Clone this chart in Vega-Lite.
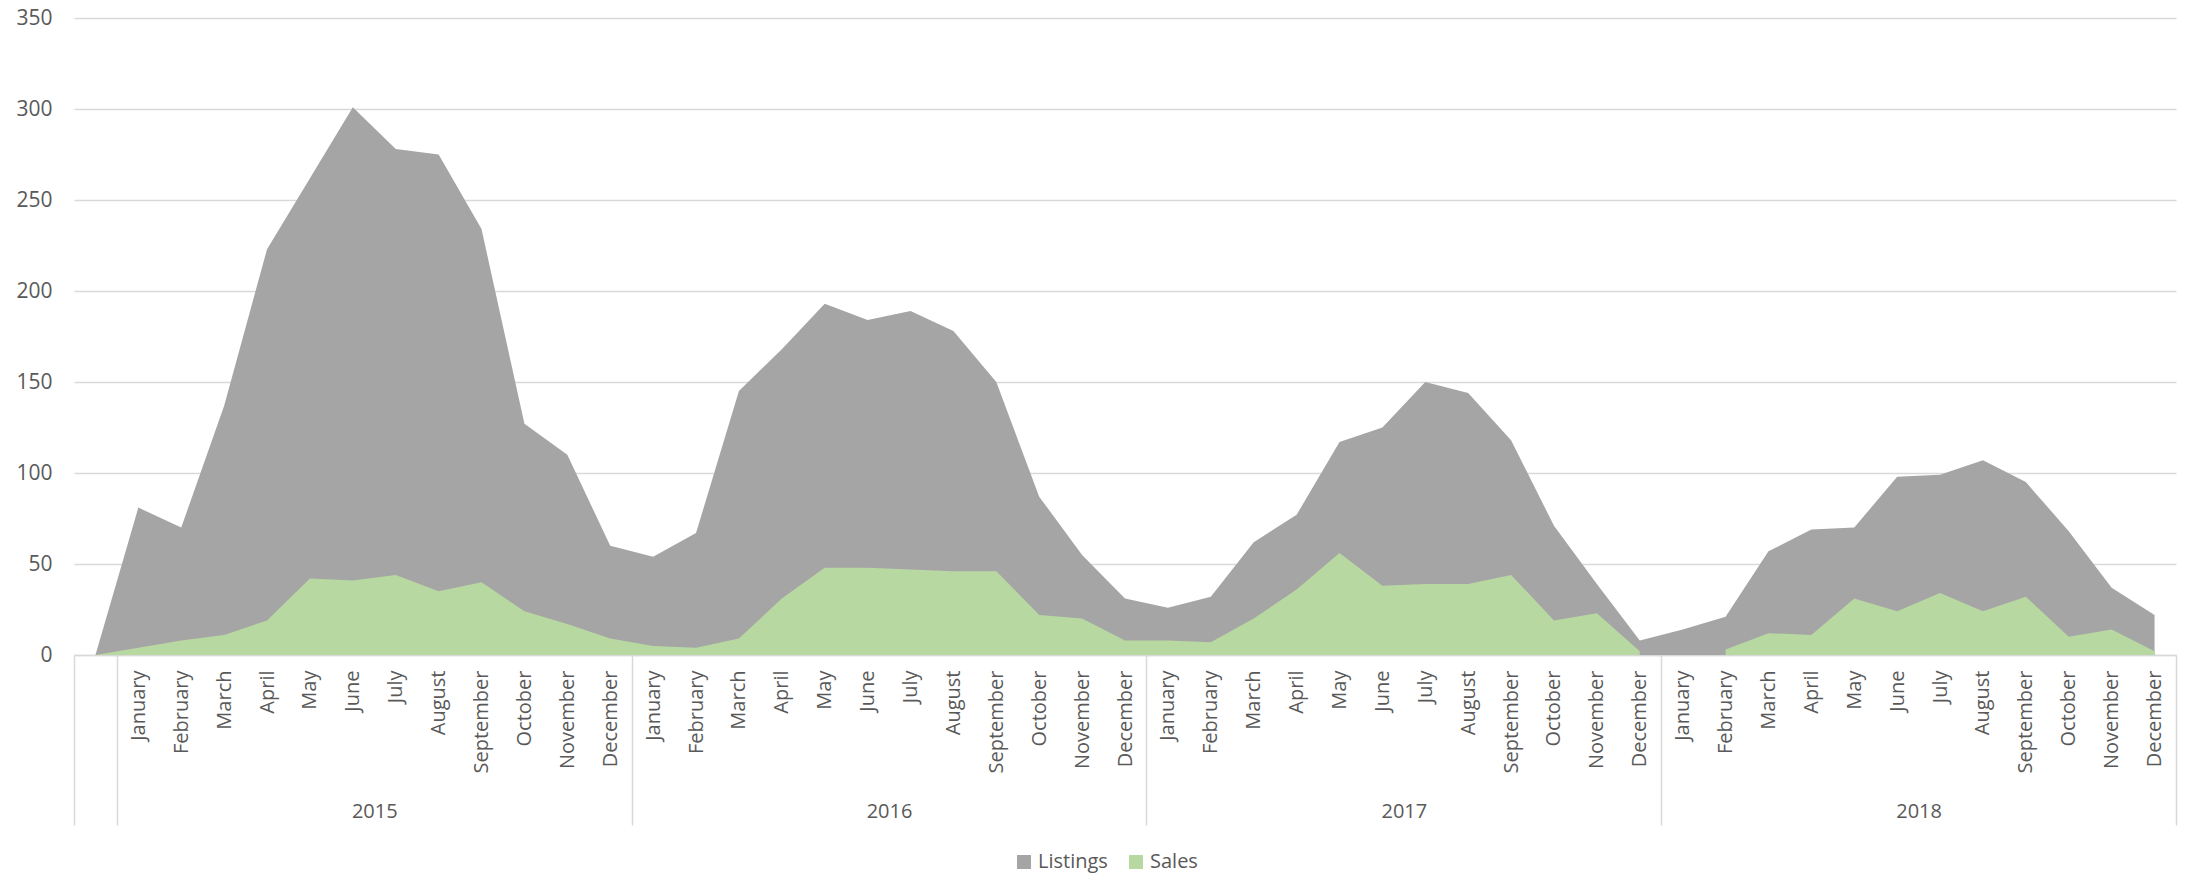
{
  "$schema": "https://vega.github.io/schema/vega-lite/v6.json",
  "width": 2102,
  "height": 637,
  "autosize": {"type": "none"},
  "padding": {"left": 74, "top": 18, "right": 14, "bottom": 220},
  "background": "white",
  "config": {"view": {"stroke": null}, "font": "Open Sans"},
  "layer": [
    {
      "data": {
        "values": [
          {"k": "start", "Listings": 0, "Sales": 0},
          {"k": "2015 January", "Listings": 81, "Sales": 4},
          {"k": "2015 February", "Listings": 70, "Sales": 8},
          {"k": "2015 March", "Listings": 137, "Sales": 11},
          {"k": "2015 April", "Listings": 223, "Sales": 19},
          {"k": "2015 May", "Listings": 262, "Sales": 42},
          {"k": "2015 June", "Listings": 301, "Sales": 41},
          {"k": "2015 July", "Listings": 278, "Sales": 44},
          {"k": "2015 August", "Listings": 275, "Sales": 35},
          {"k": "2015 September", "Listings": 234, "Sales": 40},
          {"k": "2015 October", "Listings": 127, "Sales": 24},
          {"k": "2015 November", "Listings": 110, "Sales": 17},
          {"k": "2015 December", "Listings": 60, "Sales": 9},
          {"k": "2016 January", "Listings": 54, "Sales": 5},
          {"k": "2016 February", "Listings": 67, "Sales": 4},
          {"k": "2016 March", "Listings": 145, "Sales": 9},
          {"k": "2016 April", "Listings": 168, "Sales": 31},
          {"k": "2016 May", "Listings": 193, "Sales": 48},
          {"k": "2016 June", "Listings": 184, "Sales": 48},
          {"k": "2016 July", "Listings": 189, "Sales": 47},
          {"k": "2016 August", "Listings": 178, "Sales": 46},
          {"k": "2016 September", "Listings": 150, "Sales": 46},
          {"k": "2016 October", "Listings": 87, "Sales": 22},
          {"k": "2016 November", "Listings": 55, "Sales": 20},
          {"k": "2016 December", "Listings": 31, "Sales": 8},
          {"k": "2017 January", "Listings": 26, "Sales": 8},
          {"k": "2017 February", "Listings": 32, "Sales": 7},
          {"k": "2017 March", "Listings": 62, "Sales": 20},
          {"k": "2017 April", "Listings": 77, "Sales": 36},
          {"k": "2017 May", "Listings": 117, "Sales": 56},
          {"k": "2017 June", "Listings": 125, "Sales": 38},
          {"k": "2017 July", "Listings": 150, "Sales": 39},
          {"k": "2017 August", "Listings": 144, "Sales": 39},
          {"k": "2017 September", "Listings": 118, "Sales": 44},
          {"k": "2017 October", "Listings": 71, "Sales": 19},
          {"k": "2017 November", "Listings": 39, "Sales": 23},
          {"k": "2017 December", "Listings": 8, "Sales": 2},
          {"k": "2018 January", "Listings": 14, "Sales": null},
          {"k": "2018 February", "Listings": 21, "Sales": 3},
          {"k": "2018 March", "Listings": 57, "Sales": 12},
          {"k": "2018 April", "Listings": 69, "Sales": 11},
          {"k": "2018 May", "Listings": 70, "Sales": 31},
          {"k": "2018 June", "Listings": 98, "Sales": 24},
          {"k": "2018 July", "Listings": 99, "Sales": 34},
          {"k": "2018 August", "Listings": 107, "Sales": 24},
          {"k": "2018 September", "Listings": 95, "Sales": 32},
          {"k": "2018 October", "Listings": 68, "Sales": 10},
          {"k": "2018 November", "Listings": 37, "Sales": 14},
          {"k": "2018 December", "Listings": 22, "Sales": 2}
        ]
      },
      "transform": [{"fold": ["Listings", "Sales"], "as": ["series", "value"]}],
      "mark": {"type": "area", "interpolate": "linear", "opacity": 1, "invalid": "break-paths-show-domains"},
      "encoding": {
        "x": {
          "field": "k",
          "type": "ordinal",
          "sort": null,
          "scale": {"type": "point", "padding": 0.5},
          "axis": {
            "title": null,
            "orient": "bottom",
            "labelAngle": 270,
            "labelFontSize": 20,
            "labelFont": "Open Sans",
            "labelColor": "#595959",
            "labelPadding": 15,
            "labelOverlap": false,
            "labelLimit": 0,
            "ticks": false,
            "grid": false,
            "domain": true,
            "domainColor": "#D9D9D9",
            "domainWidth": 1.5,
            "labelExpr": "datum.value == 'start' ? '' : slice(datum.value, 5)"
          }
        },
        "y": {
          "field": "value",
          "type": "quantitative",
          "stack": null,
          "scale": {"domain": [0, 350], "nice": false},
          "axis": {
            "title": null,
            "values": [0, 50, 100, 150, 200, 250, 300, 350],
            "domain": false,
            "ticks": false,
            "grid": true,
            "gridColor": "#D9D9D9",
            "gridWidth": 1.5,
            "labelFontSize": 21,
            "labelFont": "Open Sans",
            "labelColor": "#595959",
            "labelPadding": 22
          }
        },
        "color": {
          "field": "series",
          "type": "nominal",
          "scale": {"domain": ["Listings", "Sales"], "range": ["#A5A5A5", "#B8D8A2"]},
          "legend": {
            "title": null,
            "orient": "none",
            "legendX": 940,
            "legendY": 834,
            "direction": "horizontal",
            "symbolType": "square",
            "symbolSize": 196,
            "symbolStrokeWidth": 0,
            "symbolOpacity": 1,
            "labelFontSize": 20,
            "labelFont": "Open Sans",
            "labelColor": "#595959",
            "labelOffset": 4,
            "columnPadding": 18
          }
        }
      }
    },
    {
      "data": {"values": [{"p": 0}, {"p": 49}]},
      "mark": {"type": "rule", "strokeOpacity": 0},
      "encoding": {
        "x": {
          "field": "p",
          "type": "quantitative",
          "scale": {"domain": [0, 49], "nice": false, "zero": false},
          "axis": {
            "title": null,
            "orient": "bottom",
            "values": [0, 1, 13, 25, 37, 49],
            "labels": false,
            "domain": false,
            "grid": false,
            "ticks": true,
            "tickSize": 170,
            "tickColor": "#D9D9D9",
            "tickWidth": 1.5
          }
        }
      }
    },
    {
      "data": {"values": [{"p": 0}, {"p": 49}]},
      "mark": {"type": "rule", "strokeOpacity": 0},
      "encoding": {
        "x": {
          "field": "p",
          "type": "quantitative",
          "scale": {"domain": [0, 49], "nice": false, "zero": false},
          "axis": {
            "title": null,
            "orient": "bottom",
            "values": [7, 19, 31, 43],
            "labelExpr": "toString(2015 + (datum.value - 7) / 12)",
            "labelFontSize": 20,
            "labelFont": "Open Sans",
            "labelColor": "#595959",
            "labelBaseline": "middle",
            "labelPadding": 156,
            "labelOverlap": false,
            "domain": false,
            "grid": false,
            "ticks": false
          }
        }
      }
    }
  ],
  "resolve": {"scale": {"x": "independent"}, "axis": {"x": "independent"}}
}
